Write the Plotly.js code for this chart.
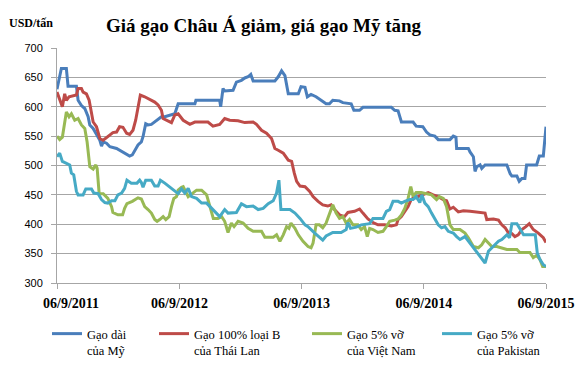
<!DOCTYPE html>
<html>
<head>
<meta charset="utf-8">
<script src="https://cdn.plot.ly/plotly-3.0.1.min.js"></script>
<style>
  html, body { margin: 0; padding: 0; background: #ffffff; }
  #chart { width: 583px; height: 367px; }
</style>
</head>
<body>
<div id="chart"></div>
<script>
// ---- Data (USD/tấn) ----
const seriesNames = ['Gạo dài<br>của Mỹ', 'Gạo 100% loại B<br>của Thái Lan', 'Gạo 5% vỡ<br>của Việt Nam', 'Gạo 5% vỡ<br>của Pakistan'];

const usDates = ['2011-09-06','2011-09-19','2011-10-04','2011-10-09','2011-11-03','2011-11-08','2011-11-18','2011-11-28','2011-12-08','2011-12-13','2011-12-23','2012-01-02','2012-01-12','2012-01-17','2012-01-22','2012-02-01','2012-02-11','2012-03-02','2012-03-11','2012-03-21','2012-04-01','2012-04-10','2012-04-18','2012-04-25','2012-05-05','2012-05-15','2012-05-20','2012-05-28','2012-06-04','2012-06-14','2012-06-29','2012-07-14','2012-07-24','2012-08-08','2012-08-23','2012-09-02','2012-10-22','2012-10-25','2013-01-04','2013-01-07','2013-01-14','2013-01-19','2013-02-13','2013-02-23','2013-03-10','2013-03-20','2013-03-30','2013-04-07','2013-04-14','2013-06-18','2013-06-28','2013-07-08','2013-07-18','2013-07-28','2013-08-27','2013-09-04','2013-09-16','2013-09-23','2013-10-04','2013-10-19','2013-11-03','2013-11-18','2013-11-28','2013-12-08','2013-12-28','2014-01-07','2014-02-01','2014-02-09','2014-02-26','2014-03-08','2014-06-01','2014-06-11','2014-06-21','2014-07-01','2014-08-05','2014-08-14','2014-09-03','2014-09-14','2014-09-24','2014-10-09','2014-10-19','2014-11-23','2014-12-03','2014-12-11','2014-12-13','2015-01-17','2015-01-22','2015-01-27','2015-02-01','2015-02-06','2015-02-11','2015-02-21','2015-02-26','2015-03-08','2015-05-12','2015-05-22','2015-05-27','2015-06-11','2015-06-18','2015-06-26','2015-07-05','2015-07-10','2015-08-09','2015-08-17','2015-08-29','2015-09-06'];
const usVals = [630,665,665,635,635,611,602,597,583,569,563,552,543,533,540,538,532,529,526,523,518,516,518,526,535,540,549,571,569,570,577,583,583,586,588,605,605,611,611,600,631,627,628,642,645,649,651,655,644,644,651,661,653,622,622,634,633,617,621,617,611,605,605,611,610,607,605,594,594,599,599,594,593,574,574,567,566,557,552,550,544,544,550,548,529,529,523,518,515,490,498,501,495,501,501,486,482,482,473,478,478,501,501,516,516,566];

const thDates = ['2011-09-06','2011-09-14','2011-09-22','2011-09-29','2011-10-04','2011-10-12','2011-10-24','2011-11-03','2011-11-08','2011-11-18','2011-11-23','2011-12-03','2011-12-11','2011-12-18','2011-12-23','2012-01-02','2012-01-12','2012-01-22','2012-02-05','2012-02-20','2012-03-02','2012-03-11','2012-03-21','2012-04-01','2012-04-10','2012-04-20','2012-04-28','2012-05-05','2012-05-12','2012-05-25','2012-06-09','2012-06-24','2012-07-04','2012-07-14','2012-07-19','2012-07-29','2012-08-13','2012-08-23','2012-09-02','2012-09-17','2012-10-07','2012-10-22','2012-11-30','2012-12-15','2013-01-04','2013-01-19','2013-02-03','2013-02-28','2013-03-20','2013-04-14','2013-04-24','2013-05-09','2013-05-24','2013-06-08','2013-06-18','2013-06-28','2013-07-13','2013-07-28','2013-08-07','2013-08-15','2013-08-22','2013-09-01','2013-09-16','2013-09-30','2013-10-10','2013-10-25','2013-11-08','2013-11-23','2013-12-03','2013-12-13','2013-12-28','2014-01-12','2014-01-22','2014-02-11','2014-02-26','2014-03-08','2014-03-23','2014-04-07','2014-04-22','2014-05-12','2014-06-01','2014-06-16','2014-06-21','2014-07-01','2014-07-11','2014-07-21','2014-07-30','2014-08-10','2014-08-19','2014-09-03','2014-09-19','2014-10-04','2014-10-19','2014-11-03','2014-11-13','2014-11-23','2014-12-03','2014-12-18','2015-01-02','2015-01-22','2015-02-16','2015-03-08','2015-03-13','2015-04-02','2015-04-17','2015-04-27','2015-05-07','2015-05-16','2015-05-27','2015-06-05','2015-06-15','2015-06-26','2015-07-08','2015-07-18','2015-07-30','2015-08-14','2015-08-29','2015-09-06'];
const thVals = [625,611,600,622,611,617,618,620,631,631,625,622,611,588,574,566,546,543,550,556,557,566,565,555,553,560,577,597,620,617,612,608,603,594,580,577,573,586,588,577,570,574,574,567,570,580,577,576,573,574,570,560,555,546,529,526,521,509,507,487,473,465,464,456,447,439,433,431,433,425,416,413,420,422,426,419,409,403,399,399,397,399,408,413,422,430,442,447,447,450,454,450,447,442,440,426,429,421,423,422,421,419,408,409,407,399,394,386,384,379,382,391,396,401,391,385,377,369];

const vnDates = ['2011-09-06','2011-09-14','2011-09-22','2011-09-29','2011-10-04','2011-10-12','2011-10-19','2011-10-29','2011-11-08','2011-11-18','2011-11-28','2011-12-05','2011-12-13','2011-12-23','2011-12-31','2012-01-04','2012-01-10','2012-01-22','2012-02-05','2012-02-16','2012-02-20','2012-03-06','2012-03-20','2012-03-26','2012-04-02','2012-04-18','2012-05-05','2012-05-15','2012-05-25','2012-06-04','2012-06-14','2012-06-24','2012-07-01','2012-07-09','2012-07-19','2012-07-27','2012-08-06','2012-08-13','2012-08-20','2012-08-28','2012-09-02','2012-09-12','2012-09-17','2012-10-02','2012-10-17','2012-10-27','2012-11-11','2012-11-26','2012-12-06','2012-12-16','2012-12-30','2013-01-10','2013-01-19','2013-01-29','2013-02-08','2013-02-16','2013-02-28','2013-03-15','2013-03-30','2013-04-14','2013-05-09','2013-05-19','2013-06-13','2013-06-23','2013-07-03','2013-07-13','2013-07-23','2013-07-30','2013-08-05','2013-08-17','2013-08-27','2013-09-10','2013-09-25','2013-10-04','2013-10-10','2013-10-19','2013-10-29','2013-11-08','2013-11-18','2013-11-28','2013-12-08','2013-12-18','2013-12-28','2014-01-07','2014-01-17','2014-01-27','2014-02-06','2014-02-21','2014-03-03','2014-03-13','2014-03-21','2014-03-28','2014-04-07','2014-04-22','2014-05-07','2014-05-17','2014-05-27','2014-06-11','2014-06-21','2014-07-01','2014-07-11','2014-07-21','2014-07-29','2014-08-05','2014-08-14','2014-08-29','2014-09-14','2014-09-29','2014-10-14','2014-10-22','2014-11-03','2014-11-13','2014-11-23','2014-12-03','2014-12-23','2015-01-07','2015-01-17','2015-02-01','2015-02-16','2015-02-26','2015-03-08','2015-03-18','2015-03-28','2015-04-12','2015-04-22','2015-05-12','2015-06-11','2015-06-20','2015-07-20','2015-07-30','2015-08-09','2015-08-19','2015-08-27','2015-09-06'];
const vnVals = [550,544,548,571,591,583,588,577,580,569,563,540,498,494,501,495,452,452,444,430,420,416,416,427,435,439,445,443,430,425,419,408,405,408,413,408,413,430,444,447,458,463,464,447,454,458,458,450,430,410,410,413,405,386,402,396,405,402,393,388,388,378,378,382,371,382,396,393,402,393,382,371,362,360,368,399,399,394,402,416,433,419,410,413,402,408,399,399,391,396,379,393,391,386,388,396,405,407,409,416,427,444,464,447,454,454,452,450,442,447,444,430,399,391,391,385,377,362,360,365,374,368,362,362,360,357,357,352,352,343,347,340,328,328];

const pkDates = ['2011-09-06','2011-09-14','2011-09-22','2011-10-04','2011-10-14','2011-10-19','2011-10-26','2011-11-03','2011-11-08','2011-11-23','2011-12-01','2011-12-18','2011-12-25','2012-01-07','2012-01-17','2012-01-27','2012-02-05','2012-02-16','2012-02-26','2012-03-06','2012-03-17','2012-03-26','2012-04-02','2012-04-15','2012-05-02','2012-05-10','2012-05-15','2012-05-20','2012-05-28','2012-06-14','2012-06-24','2012-07-04','2012-07-11','2012-07-24','2012-08-08','2012-08-23','2012-09-02','2012-09-12','2012-09-22','2012-10-02','2012-10-12','2012-10-27','2012-11-11','2012-11-26','2012-12-11','2012-12-26','2013-01-04','2013-01-19','2013-01-29','2013-02-23','2013-03-10','2013-03-25','2013-04-14','2013-04-29','2013-05-14','2013-05-29','2013-06-13','2013-06-23','2013-06-30','2013-07-06','2013-08-02','2013-08-17','2013-09-01','2013-09-16','2013-09-25','2013-10-15','2013-10-30','2013-11-08','2013-11-18','2013-12-08','2014-01-02','2014-01-17','2014-01-22','2014-01-30','2014-02-16','2014-03-03','2014-03-28','2014-04-07','2014-05-07','2014-05-17','2014-05-27','2014-06-06','2014-06-21','2014-07-01','2014-07-11','2014-07-26','2014-08-05','2014-08-14','2014-08-25','2014-08-31','2014-09-09','2014-09-19','2014-09-29','2014-10-09','2014-10-19','2014-10-29','2014-11-08','2014-11-18','2014-12-03','2014-12-13','2014-12-23','2015-01-07','2015-01-22','2015-02-06','2015-02-21','2015-03-08','2015-03-18','2015-04-02','2015-04-17','2015-04-27','2015-05-12','2015-05-20','2015-05-27','2015-06-11','2015-06-21','2015-07-01','2015-08-05','2015-08-11','2015-08-19','2015-08-29','2015-09-06'];
const pkVals = [515,521,507,504,501,487,484,456,450,450,460,460,453,452,442,437,436,440,440,450,453,461,475,470,470,475,471,463,475,475,465,465,475,470,463,457,452,460,453,461,447,444,436,436,427,419,413,425,419,420,435,430,431,425,427,435,440,453,475,425,425,419,410,399,396,385,377,373,380,386,386,391,403,393,395,399,401,410,410,422,425,439,439,436,439,442,442,447,437,450,436,430,419,410,399,394,396,388,385,379,374,379,368,357,346,334,354,362,371,374,382,377,401,401,391,382,382,351,340,331,328];

const xTickVals = ['2011-09-06', '2012-09-06', '2013-09-06', '2014-09-06', '2015-09-06'];
const xTickText = ['\u00a0\u00a0\u00a0\u00a0\u00a0\u00a0\u00a0\u00a006/9/2011', '06/9/2012', '06/9/2013', '06/9/2014', '06/9/2015'];
const yTickVals = [300, 350, 400, 450, 500, 550, 600, 650, 700];

const colors = ['#4A7EBB', '#BE4B48', '#98B954', '#46AAC5'];
const xs = [usDates, thDates, vnDates, pkDates];
const ys = [usVals, thVals, vnVals, pkVals];
const legendIds = ['legend', 'legend2', 'legend3', 'legend4'];

const SERIF = '"Liberation Serif", "Times New Roman", serif';
const SANS = '"Liberation Sans", Arial, sans-serif';

const traces = xs.map((x, i) => ({
  type: 'scatter',
  mode: 'lines',
  x: x,
  y: ys[i],
  name: seriesNames[i],
  legend: legendIds[i],
  line: { color: colors[i], width: 3 },
  hoverinfo: 'skip'
}));

const legendX = [47, 154, 307, 437];
function makeLegend(px) {
  return {
    x: px / 583, xref: 'container', xanchor: 'left',
    y: 1 - 319 / 367, yref: 'container', yanchor: 'top',
    orientation: 'h', valign: 'top',
    font: { family: SERIF, size: 12.5, color: '#000000' },
    bgcolor: 'rgba(0,0,0,0)', borderwidth: 0
  };
}

const gridColor = '#A6A6A6';
const layout = {
  width: 583,
  height: 367,
  font: { family: SERIF, size: 13, color: '#000000' },
  margin: { l: 57.3, r: 37, t: 47.5, b: 83.5, pad: 0 },
  paper_bgcolor: '#ffffff',
  plot_bgcolor: '#ffffff',
  showlegend: true,
  title: {
    text: 'Giá gạo Châu Á giảm, giá gạo Mỹ tăng',
    font: { family: SERIF, size: 19, color: '#000000', weight: 'bold' },
    x: 263.5 / 583, xref: 'container', xanchor: 'center',
    y: 1 - 25 / 367, yref: 'container', yanchor: 'middle'
  },
  xaxis: {
    type: 'date',
    range: ['2011-09-06', '2015-09-06'],
    tickvals: xTickVals,
    ticktext: xTickText,
    showgrid: false,
    zeroline: false,
    showline: true,
    linecolor: gridColor,
    linewidth: 1,
    ticks: 'outside',
    ticklen: 5,
    tickcolor: gridColor,
    tickfont: { family: SERIF, size: 14, color: '#000000', weight: 'bold' },
    ticklabelstandoff: 2,
    fixedrange: true
  },
  yaxis: {
    range: [300, 700],
    tickvals: yTickVals,
    showgrid: true,
    gridcolor: gridColor,
    gridwidth: 1,
    zeroline: false,
    showline: true,
    linecolor: gridColor,
    linewidth: 1,
    ticks: 'outside',
    ticklen: 5,
    tickcolor: gridColor,
    tickfont: { family: SANS, size: 11, color: '#000000' },
    ticklabelstandoff: 6,
    fixedrange: true
  },
  annotations: [{
    text: 'USD/tấn',
    xref: 'paper', yref: 'paper',
    x: (7 - 57.3) / 488.7, xanchor: 'left',
    y: (283.5 - 22) / 236, yanchor: 'middle',
    showarrow: false,
    font: { family: SERIF, size: 12, color: '#000000', weight: 'bold' }
  }],
  hovermode: false
};
legendIds.forEach((id, i) => { layout[id] = makeLegend(legendX[i]); });

Plotly.newPlot('chart', traces, layout, { displayModeBar: false, staticPlot: true });
</script>
</body>
</html>
